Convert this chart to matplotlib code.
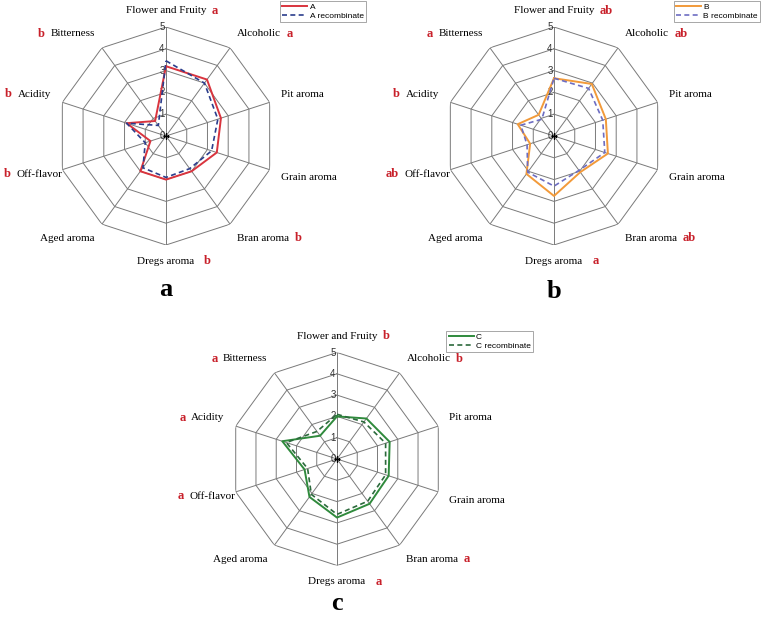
import numpy as np
import matplotlib
matplotlib.use('Agg')
import matplotlib.pyplot as plt

# attributes, clockwise from top
attrs = ["Flower and Fruity", "Alcoholic", "Pit aroma", "Grain aroma", "Bran aroma",
         "Dregs aroma", "Aged aroma", "Off-flavor", "Acidity", "Bitterness"]

A = [3.2, 3.2, 2.65, 2.45, 2.0, 2.0, 2.0, 0.75, 1.9, 0.85]
A_rec = [3.45, 3.0, 2.5, 2.2, 1.85, 1.9, 1.8, 1.0, 1.9, 0.6]
B = [2.65, 2.95, 2.5, 2.6, 2.05, 2.75, 2.15, 1.15, 1.75, 1.2]
B_rec = [2.65, 2.7, 2.35, 2.45, 1.95, 2.3, 2.05, 1.3, 1.6, 0.95]
C = [2.0, 2.35, 2.6, 2.55, 2.6, 2.75, 2.2, 1.6, 2.7, 1.35]
C_rec = [2.1, 2.15, 2.4, 2.4, 2.45, 2.6, 2.05, 1.45, 2.5, 1.6]

# significance letters (None = no letter)
sig_a = ["a", "a", None, None, "b", "b", None, "b", "b", "b"]
sig_b = ["ab", "ab", None, None, "ab", "a", None, "ab", "b", "a"]
sig_c = ["b", "b", None, None, "a", "a", None, "a", "a", "a"]

rings = [1, 2, 3, 4, 5]

SERIF = ['Liberation Serif', 'DejaVu Serif']
SANS = ['Liberation Sans', 'DejaVu Sans']
RED = '#c8202a'
GRID = '#7a7a7a'

fig = plt.figure(figsize=(7.62, 6.18), dpi=100)
W, H = 762.0, 618.0

def radar(cx, cy, rad, s1, s2, name, c1, c2, ls2, sig, leg_xy, letter, letter_xy):
    ax = fig.add_axes([(cx - rad) / W, 1 - (cy + rad) / H, 2 * rad / W, 2 * rad / H],
                      projection='polar')
    ax.set_theta_zero_location('N')
    ax.set_theta_direction(-1)
    ax.set_ylim(0, 5)
    ax.grid(False)
    ax.set_xticks([])
    ax.set_yticks([])
    ax.spines['polar'].set_visible(False)
    ax.patch.set_alpha(0)

    n = len(attrs)
    th = np.arange(n) * 2 * np.pi / n
    thc = np.append(th, th[0])

    for r in rings:
        ax.plot(thc, [r] * (n + 1), color=GRID, lw=0.7, zorder=1)
    for t in th:
        ax.plot([t, t], [0, 5], color=GRID, lw=0.7, zorder=1)

    for r in rings:
        ax.annotate(str(r), xy=(0, r), xytext=(-1, 0), textcoords='offset points',
                    ha='right', va='center', fontsize=7, family=SANS, color='#333333')
    ax.annotate('0', xy=(0, 0), xytext=(-1, 0), textcoords='offset points',
                ha='right', va='center', fontsize=7, family=SANS, color='#333333')
    ax.plot([0], [0], marker='+', color='k', ms=4, mew=1, zorder=5)

    v1 = list(s1) + [s1[0]]
    v2 = list(s2) + [s2[0]]
    ax.plot(thc, v1, color=c1, lw=1.4, label=name, zorder=3)
    ax.plot(thc, v2, color=c2, lw=1.2, ls=ls2, label=name + ' recombinate', zorder=4)

    # axis labels + significance letters
    for t, lab, s in zip(th, attrs, sig):
        sn, cs = np.sin(t), np.cos(t)
        ha = 'left' if sn > 0.1 else ('right' if sn < -0.1 else 'center')
        va = 'bottom' if cs > 0.3 else ('top' if cs < -0.3 else 'center')
        rr = 5.55 if abs(cs) > 0.3 else 5.35
        if lab == "Off-flavor":
            rr = 5.0
        txt = ax.text(t, rr, lab, ha=ha, va=va, fontsize=8, family=SERIF, clip_on=False)
        if s is None:
            continue
        if sn < -0.1:
            ax.annotate(s, xy=(0, 0.5), xycoords=txt, xytext=(-4, 0),
                        textcoords='offset points', ha='right', va='center',
                        fontsize=9, family=SERIF, weight='bold', color=RED)
        else:
            gap = 7 if abs(sn) < 0.1 and cs < 0 else 4
            ax.annotate(s, xy=(1, 0.5), xycoords=txt, xytext=(gap, 0),
                        textcoords='offset points', ha='left', va='center',
                        fontsize=9, family=SERIF, weight='bold', color=RED)

    leg = ax.legend(loc='upper right', bbox_to_anchor=(leg_xy[0] / W, 1 - leg_xy[1] / H),
                    bbox_transform=fig.transFigure, frameon=True,
                    fancybox=False, edgecolor='#999999', framealpha=1,
                    handlelength=3.0, handletextpad=0.3, borderpad=0.25,
                    labelspacing=0.1, borderaxespad=0, prop={'family': SANS, 'size': 6})
    leg.get_frame().set_linewidth(0.6)

    fig.text(letter_xy[0] / W, 1 - letter_xy[1] / H, letter, ha='center', va='center',
             fontsize=19, weight='bold', family=SERIF)
    return ax

radar(166, 136, 109, A, A_rec, 'A', '#d9343e', '#2b3d8c', (0, (3, 2)), sig_a,
      (366, 1), 'a', (166, 290))
radar(554, 136, 109, B, B_rec, 'B', '#f29a3a', '#6d6dc2', (0, (3, 2)), sig_b,
      (760, 1), 'b', (554, 292))
radar(337, 459, 106.5, C, C_rec, 'C', '#2f8a3c', '#2c6a3c', (0, (3, 2)), sig_c,
      (533, 331), 'c', (337, 604))

fig.savefig('out.png', dpi=100)
